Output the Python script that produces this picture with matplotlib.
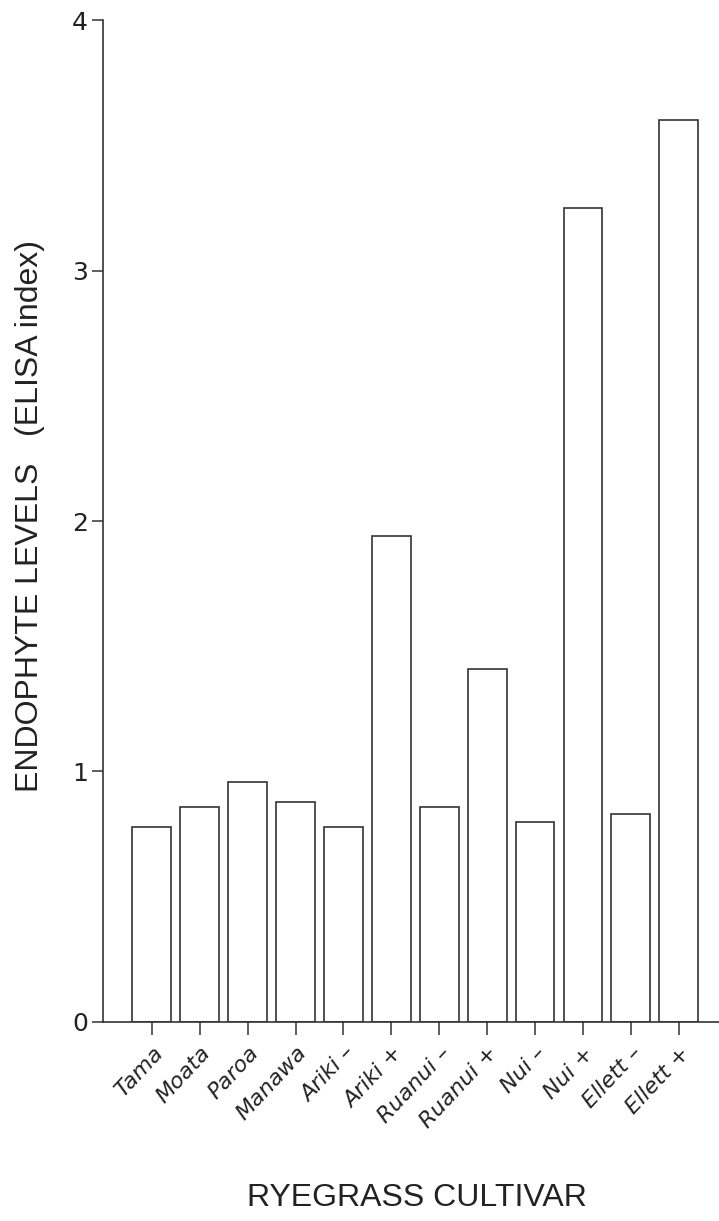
import matplotlib
matplotlib.use("Agg")
import matplotlib.pyplot as plt

cultivars = ["Tama", "Moata", "Paroa", "Manawa", "Ariki \u2013", "Ariki +",
             "Ruanui \u2013", "Ruanui +", "Nui \u2013", "Nui +", "Ellett \u2013", "Ellett +"]
endophyte = [0.78, 0.86, 0.96, 0.88, 0.78, 1.94, 0.86, 1.41, 0.80, 3.25, 0.83, 3.60]
yticks = [0, 1, 2, 3, 4]

fig = plt.figure(figsize=(7.19, 12.21), dpi=100)
ax = fig.add_axes([0.1433, 0.163, 0.8567, 0.8206])

x = list(range(len(cultivars)))
ax.bar(x, endophyte, width=0.81, color="white", edgecolor="#333333", linewidth=1.2)

ax.set_xlim(-1.02, 11.84)
ax.set_ylim(0, 4)
ax.spines["top"].set_visible(False)
ax.spines["right"].set_visible(False)
for s in ("left", "bottom"):
    ax.spines[s].set_linewidth(1.2)
    ax.spines[s].set_color("#333333")

ax.set_yticks(yticks)
ax.set_yticklabels([str(v) for v in yticks],
                   family=["Liberation Sans Narrow", "DejaVu Sans"], fontsize=18,
                   color="#222222")
ax.tick_params(axis="y", direction="out", length=8, width=1.1, color="#333333", pad=3)

ax.set_xticks(x)
ax.set_xticklabels(cultivars, rotation=47, ha="right", va="top",
                   rotation_mode="anchor", fontstyle="italic",
                   family=["DejaVu Sans"], fontsize=16, color="#222222")
ax.tick_params(axis="x", direction="out", length=9, width=1.1, color="#333333", pad=6)

fig.text(0.042, 0.577, "ENDOPHYTE LEVELS   (ELISA index)", rotation=90,
         ha="center", va="center", family=["Liberation Sans", "DejaVu Sans"],
         fontsize=23, color="#222222")
fig.text(0.58, 0.019, "RYEGRASS CULTIVAR", ha="center", va="center",
         family=["Liberation Sans", "DejaVu Sans"], fontsize=23, color="#222222")

fig.savefig("out.png", dpi=100)
